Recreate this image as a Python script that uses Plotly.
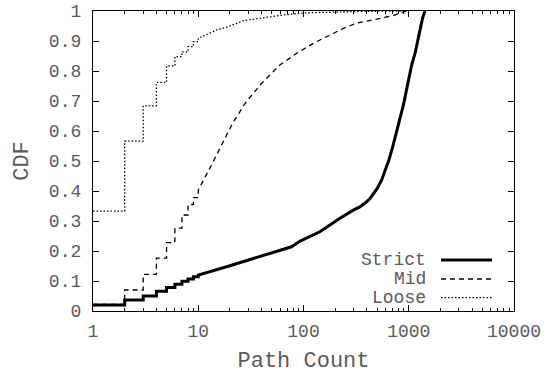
import plotly.graph_objects as go

# ---- data ----
step_x = [1, 2, 3, 4, 5, 6, 7, 8, 9, 10]
strict_step = [0.02, 0.037, 0.05, 0.066, 0.078, 0.089, 0.099, 0.107, 0.114, 0.12]
mid_step = [0.022, 0.07, 0.122, 0.176, 0.228, 0.276, 0.32, 0.355, 0.378, 0.403]
loose_step = [0.333, 0.566, 0.684, 0.762, 0.817, 0.848, 0.864, 0.881, 0.898, 0.909]

strict_x = [10, 15, 20, 30, 50, 77, 93, 143, 222, 260, 300, 343, 370, 400, 430, 460, 500, 553,
            600, 650, 711, 800, 890, 1000, 1066, 1150, 1276, 1350, 1427]
strict_y = [0.12, 0.137, 0.151, 0.17, 0.194, 0.214, 0.233, 0.264, 0.309, 0.325, 0.337, 0.347,
            0.355, 0.365, 0.376, 0.39, 0.408, 0.437, 0.468, 0.505, 0.553, 0.62, 0.687, 0.773,
            0.82, 0.86, 0.942, 0.975, 1.0]

mid_x = [10, 12, 13.1, 14.2, 15.5, 16.9, 18.3, 19.8, 21.6, 24.4, 26.8, 30.4, 34.6, 40.1,
         59.6, 86.2, 123.6, 193, 239, 318, 500, 700, 950]
mid_y = [0.403, 0.453, 0.481, 0.505, 0.531, 0.559, 0.584, 0.606, 0.631, 0.659, 0.684, 0.709,
         0.734, 0.759, 0.82, 0.859, 0.892, 0.926, 0.942, 0.959, 0.972, 0.984, 1.0]

loose_x = [10, 11.6, 13.4, 15, 16.1, 19.3, 26.8, 44.8, 69, 107, 200, 400, 900]
loose_y = [0.909, 0.92, 0.931, 0.937, 0.94, 0.948, 0.968, 0.98, 0.988, 0.994, 0.997, 0.999, 1.0]

series_names = ["Strict", "Mid", "Loose"]
x_tickvals = [1, 10, 100, 1000, 10000]
x_ticktext = ["1", "10", "100", "1000", "10000"]
y_tickvals = [0, 0.1, 0.2, 0.3, 0.4, 0.5, 0.6, 0.7, 0.8, 0.9, 1]
x_minor = [m * d for d in (1, 10, 100, 1000) for m in range(2, 10)]


def build(sx, sy, cx, cy):
    xs, ys = [], []
    for i in range(len(sx)):
        if i > 0:
            xs.append(sx[i]); ys.append(sy[i - 1])
        xs.append(sx[i]); ys.append(sy[i])
    xs += cx[1:]; ys += cy[1:]
    return xs, ys


FONT = "Liberation Mono, Courier New, monospace"
TXT = "#5a5a5a"

styles = [dict(width=3, dash="solid"), dict(width=1.3, dash="5px,4px"), dict(width=1.3, dash="1.5px,2px")]
data = [(strict_step, strict_x, strict_y), (mid_step, mid_x, mid_y), (loose_step, loose_x, loose_y)]

fig = go.Figure()
for name, (ss, cx, cy), st in zip(series_names, data, styles):
    xs, ys = build(step_x, ss, cx, cy)
    fig.add_trace(go.Scatter(x=xs, y=ys, mode="lines", name=name,
                             line=dict(color="black", width=st["width"], dash=st["dash"]),
                             showlegend=False))

# gnuplot-style legend (text right-aligned, key sample to its right)
leg_y = [0.17, 0.1067, 0.0443]
for name, st, yy in zip(series_names, styles, leg_y):
    fig.add_annotation(x=0.7957, y=yy, xref="paper", yref="paper", text=name, showarrow=False,
                       xanchor="right", yanchor="middle", font=dict(family=FONT, size=18, color=TXT))
    fig.add_shape(type="line", xref="paper", yref="paper", x0=0.8266, x1=0.9477, y0=yy, y1=yy,
                  line=dict(color="black", width=st["width"], dash=st["dash"]))

fig.update_layout(
    width=548, height=374,
    margin=dict(l=93, r=34, t=11, b=63),
    paper_bgcolor="white", plot_bgcolor="white",
    font=dict(family=FONT, size=18, color=TXT),
)
fig.update_xaxes(type="log", range=[0, 4], tickmode="array", tickvals=x_tickvals, ticktext=x_ticktext,
                 ticks="inside", ticklen=6, tickcolor="black", showline=True, linecolor="black",
                 linewidth=1.3, mirror="ticks", showgrid=False, zeroline=False, automargin=False,
                 minor=dict(tickmode="array", tickvals=x_minor, ticks="inside", ticklen=3,
                            tickcolor="black", tickwidth=1, showgrid=False),
                 title=dict(text="Path Count", standoff=24), ticklabelstandoff=3)
fig.update_yaxes(range=[0, 1], tickvals=y_tickvals, ticks="inside", ticklen=6, tickcolor="black",
                 showline=True, linecolor="black", linewidth=1.3, mirror="ticks", showgrid=False,
                 zeroline=False, automargin=False, title=dict(text="CDF", standoff=14),
                 ticklabelstandoff=7)

fig.write_html("out.html")
